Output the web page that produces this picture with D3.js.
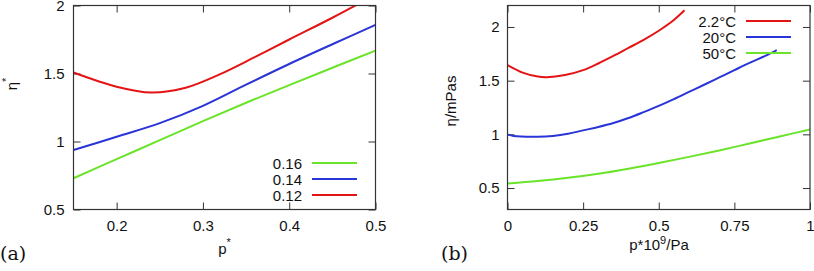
<!DOCTYPE html>
<html>
<head>
<meta charset="utf-8">
<script src="https://cdn.jsdelivr.net/npm/d3@7"></script>
<style>
  body { margin: 0; background: #fff; }
  svg, svg text { font-family: "Liberation Sans", Arial, sans-serif; }
  .tick text { font-family: "Liberation Sans", Arial, sans-serif; font-size: 15px; fill: #111; }
  .tick line { stroke: #333; }
</style>
</head>
<body>
<div id="chart"></div>
<script>
// Panel (a): reduced viscosity vs reduced pressure
const aSeries = ["0.16", "0.14", "0.12"];
const aGreen = [[0.15,0.73],[0.2,0.87],[0.25,1.01],[0.3,1.15],[0.35,1.285],[0.4,1.415],[0.45,1.542],[0.5,1.668]];
const aBlue = [[0.15,0.937],[0.2,1.035],[0.25,1.135],[0.3,1.262],[0.35,1.418],[0.4,1.57],[0.45,1.715],[0.5,1.857]];
const aRed = [[0.15,1.507],[0.2,1.403],[0.24,1.36],[0.28,1.395],[0.32,1.495],[0.36,1.62],[0.4,1.75],[0.45,1.91],[0.5,2.08]];
const aXTicks = [0.2, 0.3, 0.4, 0.5];
const aYTicks = [0.5, 1, 1.5, 2];

// Panel (b): viscosity vs pressure
const bSeries = ["2.2°C", "20°C", "50°C"];
const bRed = [[0,1.645],[0.05,1.575],[0.1,1.538],[0.13,1.532],[0.19,1.552],[0.25,1.598],[0.3,1.66],[0.35,1.73],[0.4,1.805],[0.45,1.88],[0.5,1.965],[0.55,2.065],[0.585,2.155]];
const bBlue = [[0,1.0],[0.02,0.985],[0.1,0.978],[0.15,0.985],[0.2,1.005],[0.25,1.037],[0.3,1.068],[0.35,1.105],[0.4,1.152],[0.45,1.207],[0.5,1.265],[0.55,1.328],[0.6,1.395],[0.65,1.462],[0.7,1.53],[0.75,1.598],[0.8,1.665],[0.85,1.728],[0.89,1.785]];
const bGreen = [[0,0.542],[0.1,0.565],[0.2,0.595],[0.3,0.633],[0.4,0.68],[0.5,0.733],[0.6,0.79],[0.7,0.85],[0.8,0.915],[0.9,0.98],[1.0,1.045]];
const bXTicks = [0, 0.25, 0.5, 0.75, 1];
const bYTicks = [0.5, 1, 1.5, 2];

const RED = "#e41414", BLUE = "#2a35d8", GREEN = "#6ae42a";

const svg = d3.select("#chart").append("svg")
    .attr("width", 814).attr("height", 271);

function panel(opt) {
    const w = opt.right - opt.left, h = opt.bottom - opt.top;
    const g = svg.append("g").attr("transform", `translate(${opt.left},${opt.top})`);
    const x = d3.scaleLinear().domain(opt.xDomain).range([0, w]);
    const y = d3.scaleLinear().domain(opt.yDomain).range([h, 0]);

    svg.append("defs").append("clipPath").attr("id", opt.id + "-clip")
        .append("rect").attr("width", w).attr("height", h);

    const fmt = d => String(d);
    const T = 7;
    g.append("g").attr("transform", `translate(0,${h})`)
        .call(d3.axisBottom(x).tickValues(opt.xTicks).tickFormat(fmt).tickSize(-T).tickPadding(11));
    g.append("g")
        .call(d3.axisTop(x).tickValues(opt.xTicks).tickFormat("").tickSize(-T));
    g.append("g")
        .call(d3.axisLeft(y).tickValues(opt.yTicks).tickFormat(fmt).tickSize(-T).tickPadding(opt.yPad));
    g.append("g").attr("transform", `translate(${w},0)`)
        .call(d3.axisRight(y).tickValues(opt.yTicks).tickFormat("").tickSize(-T));
    g.selectAll(".domain").remove();

    const line = d3.line().x(d => x(d[0])).y(d => y(d[1])).curve(d3.curveCatmullRom);
    const lines = g.append("g").attr("clip-path", `url(#${opt.id}-clip)`);
    opt.series.forEach(s => {
        lines.append("path").datum(s.data)
            .attr("fill", "none").attr("stroke", s.color).attr("stroke-width", 2)
            .attr("d", line);
    });

    g.append("rect").attr("width", w).attr("height", h)
        .attr("fill", "none").attr("stroke", "#333").attr("stroke-width", 1.2);

    // legend
    const lg = svg.append("g").attr("transform", `translate(${opt.legend.x},${opt.legend.y})`);
    opt.series.forEach((s, i) => {
        const row = lg.append("g").attr("transform", `translate(0,${i * 16})`);
        row.append("text").attr("x", 0).attr("y", 5.5).attr("text-anchor", "end")
            .style("font-size", "15px").attr("fill", "#111").text(s.label);
        row.append("line").attr("x1", 10).attr("x2", 55).attr("y1", 0).attr("y2", 0)
            .attr("stroke", s.color).attr("stroke-width", 2);
    });
}

panel({
    id: "pa", left: 73.5, right: 375.5, top: 5.5, bottom: 209.5,
    xDomain: [0.15, 0.5], yDomain: [0.5, 2],
    xTicks: aXTicks, yTicks: aYTicks, yPad: 9,
    series: [
        { label: aSeries[0], data: aGreen, color: GREEN },
        { label: aSeries[1], data: aBlue, color: BLUE },
        { label: aSeries[2], data: aRed, color: RED }
    ],
    legend: { x: 302, y: 163 }
});

panel({
    id: "pb", left: 507.5, right: 810, top: 5.5, bottom: 209.5,
    xDomain: [0, 1], yDomain: [0.3, 2.2],
    xTicks: bXTicks, yTicks: bYTicks, yPad: 8,
    series: [
        { label: bSeries[0], data: bRed, color: RED },
        { label: bSeries[1], data: bBlue, color: BLUE },
        { label: bSeries[2], data: bGreen, color: GREEN }
    ],
    legend: { x: 736, y: 21 }
});

// axis titles
const t1 = svg.append("text").attr("x", 224.5).attr("y", 254).attr("text-anchor", "middle")
    .style("font-size", "15px").attr("fill", "#111");
t1.append("tspan").text("p");
t1.append("tspan").attr("dy", -8).style("font-size", "11px").text("*");

const t2 = svg.append("text").attr("transform", "translate(17,84) rotate(-90)").attr("text-anchor", "middle")
    .style("font-size", "15px").attr("fill", "#111");
t2.append("tspan").text("η");
t2.append("tspan").attr("dy", -7).style("font-size", "11px").text("*");

const t3 = svg.append("text").attr("x", 659).attr("y", 250).attr("text-anchor", "middle")
    .style("font-size", "15px").attr("fill", "#111");
t3.append("tspan").text("p*10");
t3.append("tspan").attr("dy", -6).style("font-size", "11px").text("9");
t3.append("tspan").attr("dy", 6).text("/Pa");

svg.append("text").attr("transform", "translate(456,101) rotate(-90)").attr("text-anchor", "middle")
    .style("font-size", "15px").attr("fill", "#111").text("η/mPas");

// panel letters
svg.append("text").attr("x", 0).attr("y", 260).style("font-family", "'DejaVu Serif', serif")
    .style("font-size", "19px").attr("fill", "#111").text("(a)");
svg.append("text").attr("x", 441).attr("y", 260).style("font-family", "'DejaVu Serif', serif")
    .style("font-size", "19px").attr("fill", "#111").text("(b)");
</script>
</body>
</html>
